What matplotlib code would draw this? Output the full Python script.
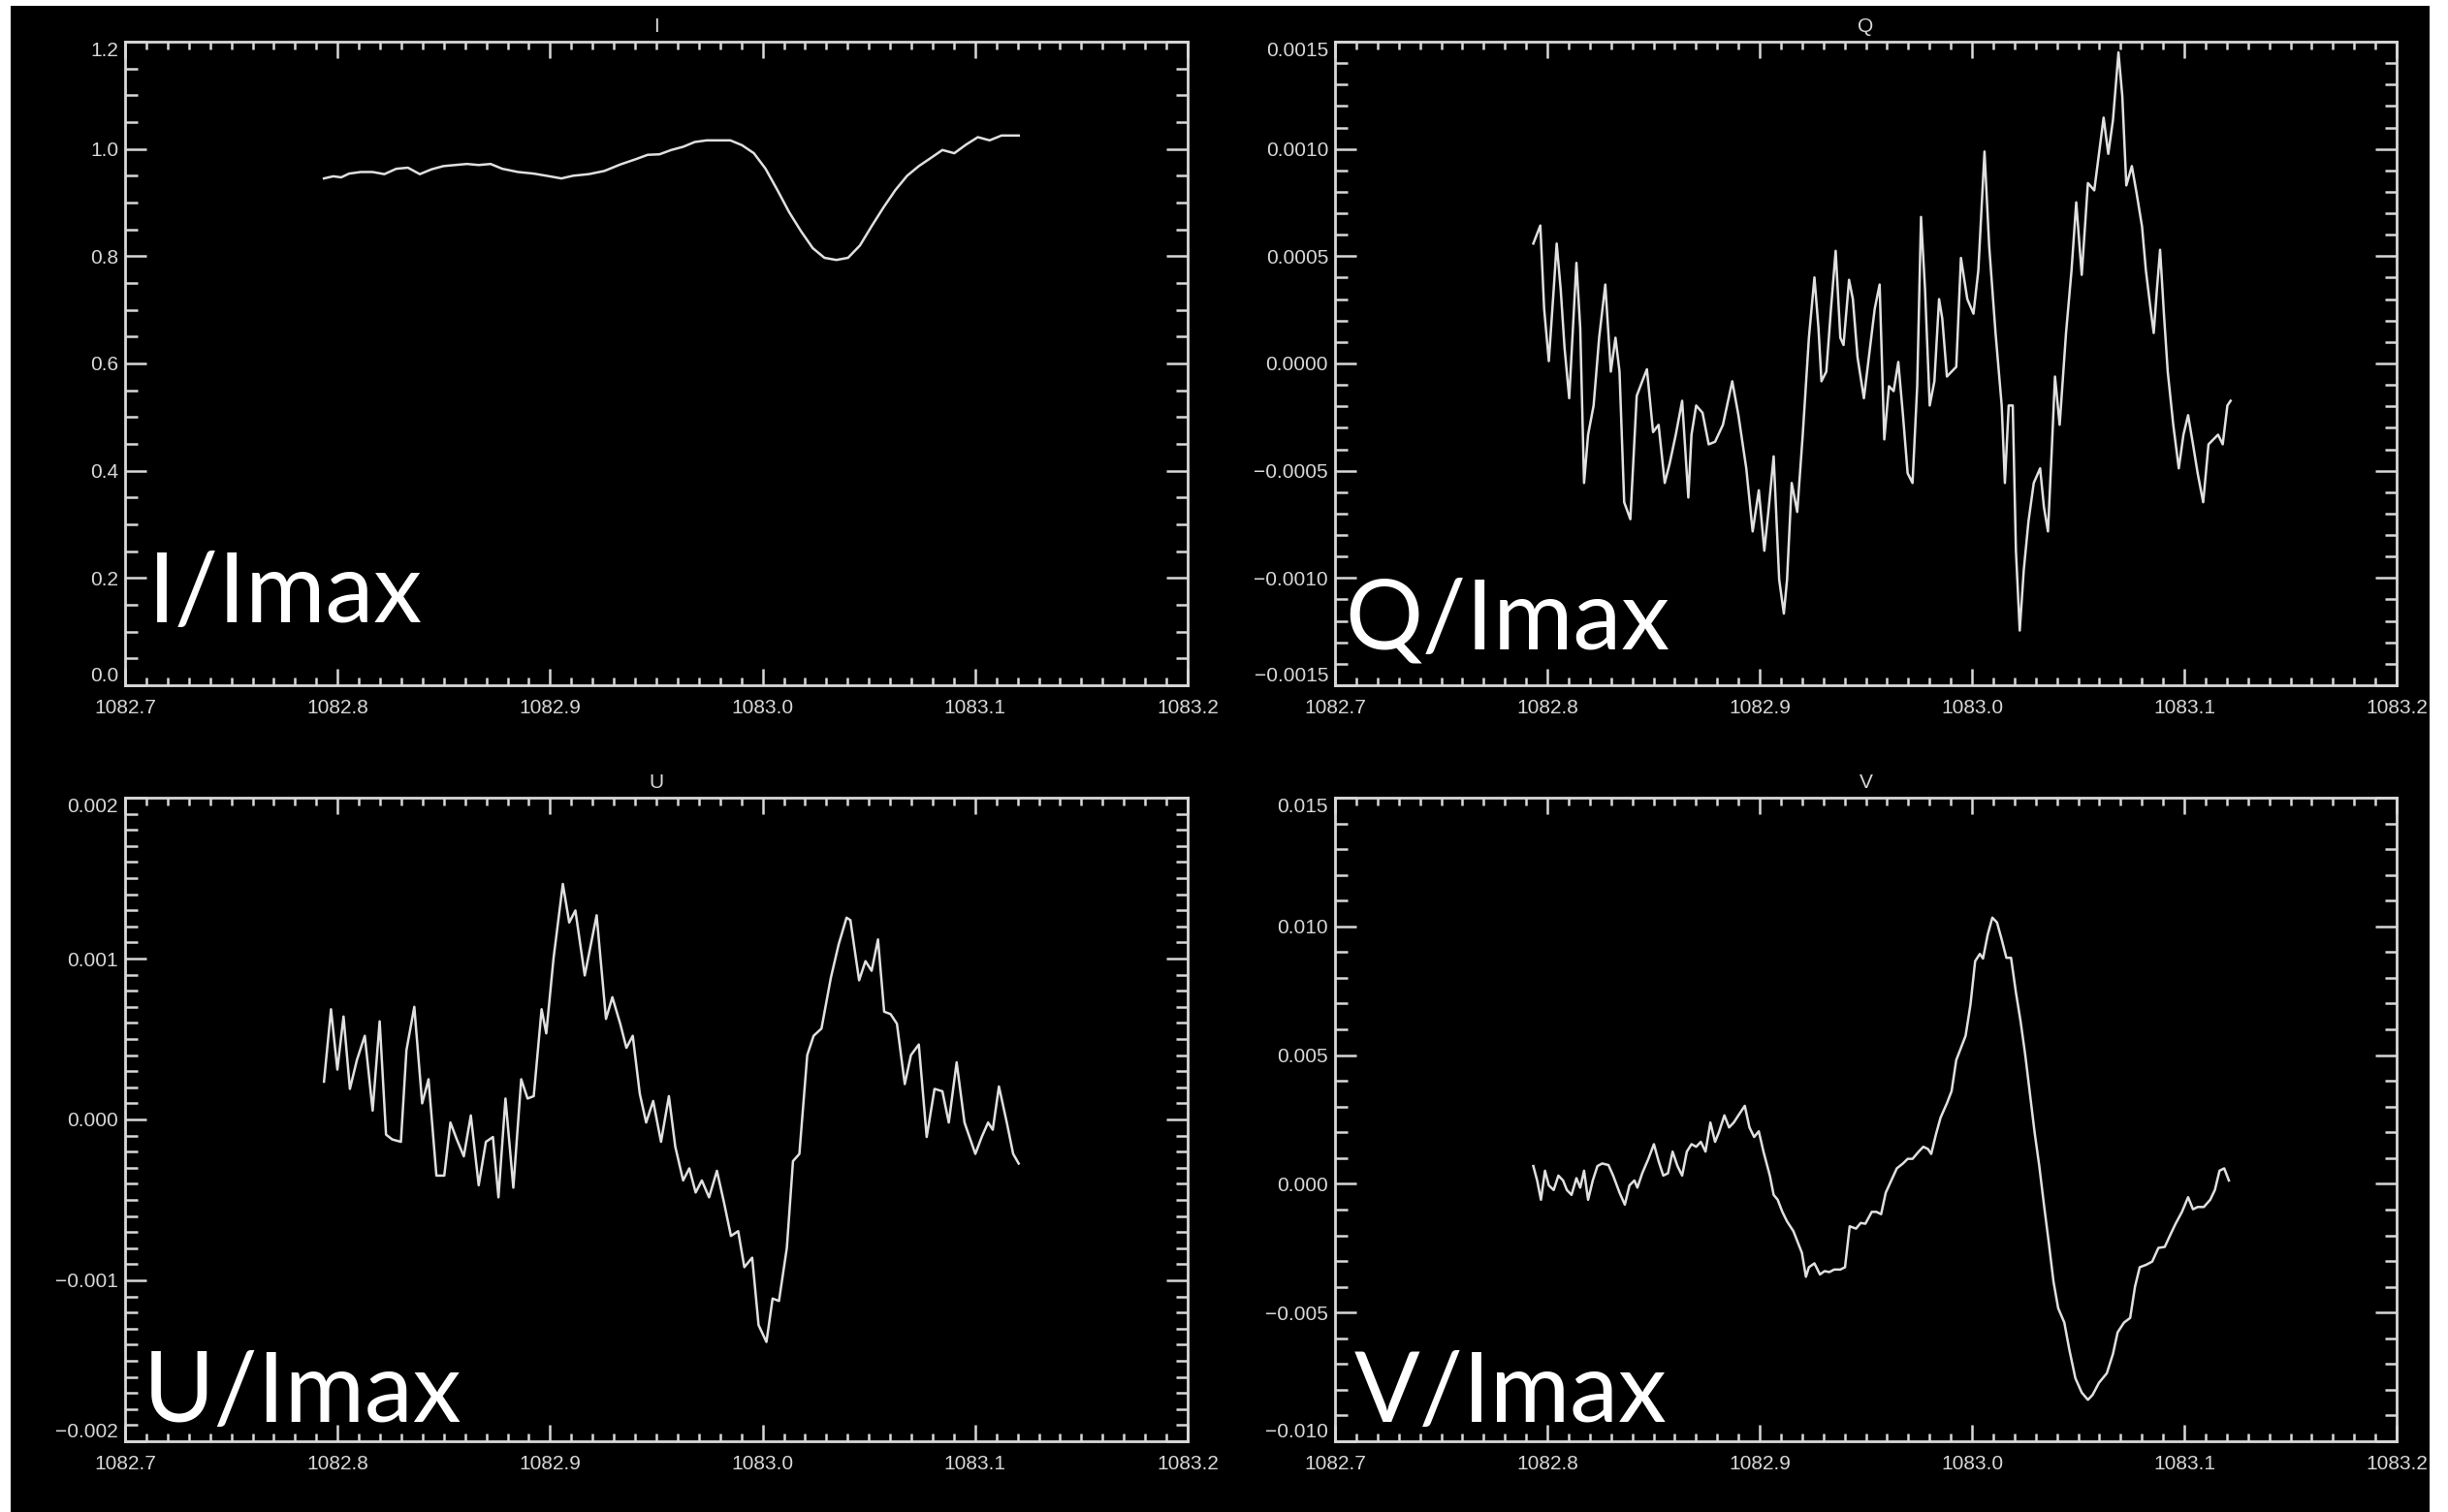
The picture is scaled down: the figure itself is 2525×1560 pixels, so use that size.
import matplotlib.pyplot as plt
from matplotlib.patches import Rectangle
from matplotlib.ticker import MultipleLocator

# He I 1083 nm Stokes profiles, each normalised by the maximum of I
wave_i = [1082.7936, 1082.7980, 1082.8017, 1082.8054, 1082.8109, 1082.8165, 1082.8220, 1082.8276, 1082.8331, 1082.8387,
          1082.8442, 1082.8498, 1082.8553, 1082.8609, 1082.8664, 1082.8720, 1082.8775, 1082.8849, 1082.8923, 1082.8997,
          1082.9053, 1082.9108, 1082.9182, 1082.9256, 1082.9330, 1082.9404, 1082.9459, 1082.9515, 1082.9570, 1082.9626,
          1082.9681, 1082.9737, 1082.9792, 1082.9848, 1082.9903, 1082.9959, 1083.0014, 1083.0070, 1083.0125, 1083.0180,
          1083.0236, 1083.0291, 1083.0347, 1083.0402, 1083.0458, 1083.0513, 1083.0569, 1083.0624, 1083.0680, 1083.0735,
          1083.0791, 1083.0846, 1083.0902, 1083.0957, 1083.1013, 1083.1068, 1083.1124, 1083.1205]
stokes_i = [0.945, 0.949, 0.947, 0.954, 0.957, 0.957, 0.953, 0.963, 0.965, 0.953,
            0.962, 0.968, 0.970, 0.972, 0.970, 0.972, 0.963, 0.957, 0.954, 0.949,
            0.945, 0.950, 0.953, 0.959, 0.971, 0.981, 0.989, 0.990, 0.998, 1.004,
            1.013, 1.016, 1.016, 1.016, 1.007, 0.992, 0.963, 0.923, 0.882, 0.847,
            0.815, 0.797, 0.793, 0.797, 0.820, 0.856, 0.891, 0.923, 0.950, 0.968,
            0.983, 0.998, 0.992, 1.008, 1.022, 1.016, 1.025, 1.025]

wave_q = [1082.7934, 1082.7967, 1082.7985, 1082.8007, 1082.8030, 1082.8044, 1082.8063, 1082.8081, 1082.8103, 1082.8118,
          1082.8137, 1082.8155, 1082.8173, 1082.8192, 1082.8218, 1082.8244, 1082.8273, 1082.8299, 1082.8321, 1082.8340,
          1082.8362, 1082.8391, 1082.8421, 1082.8447, 1082.8469, 1082.8498, 1082.8524, 1082.8553, 1082.8576, 1082.8605,
          1082.8635, 1082.8664, 1082.8679, 1082.8701, 1082.8731, 1082.8760, 1082.8790, 1082.8827, 1082.8871, 1082.8900,
          1082.8937, 1082.8967, 1082.8996, 1082.9022, 1082.9041, 1082.9066, 1082.9092, 1082.9114, 1082.9129, 1082.9151,
          1082.9177, 1082.9203, 1082.9232, 1082.9258, 1082.9277, 1082.9291, 1082.9314, 1082.9336, 1082.9358, 1082.9380,
          1082.9395, 1082.9421, 1082.9439, 1082.9461, 1082.9491, 1082.9520, 1082.9542, 1082.9565, 1082.9587, 1082.9609,
          1082.9631, 1082.9653, 1082.9675, 1082.9697, 1082.9720, 1082.9742, 1082.9760, 1082.9779, 1082.9801, 1082.9823,
          1082.9845, 1082.9860, 1082.9882, 1082.9904, 1082.9926, 1082.9948, 1082.9978, 1083.0007, 1083.0030, 1083.0059,
          1083.0081, 1083.0111, 1083.0140, 1083.0155, 1083.0173, 1083.0192, 1083.0207, 1083.0225, 1083.0244, 1083.0266,
          1083.0291, 1083.0321, 1083.0339, 1083.0358, 1083.0376, 1083.0391, 1083.0413, 1083.0443, 1083.0469, 1083.0491,
          1083.0517, 1083.0546, 1083.0576, 1083.0598, 1083.0620, 1083.0642, 1083.0664, 1083.0690, 1083.0708, 1083.0727,
          1083.0753, 1083.0775, 1083.0801, 1083.0819, 1083.0841, 1083.0856, 1083.0871, 1083.0886, 1083.0904, 1083.0922,
          1083.0948, 1083.0974, 1083.0996, 1083.1018, 1083.1041, 1083.1063, 1083.1089, 1083.1114, 1083.1137, 1083.1159,
          1083.1181, 1083.1203, 1083.1218]
stokes_q = [0.000559, 0.000643, 0.000255, 0.000011, 0.000345, 0.000559, 0.000345, 0.000074, -0.000162, 0.000120,
            0.000469, 0.000165, -0.000557, -0.000332, -0.000196, 0.000120, 0.000368, -0.000038, 0.000120, -0.000038,
            -0.000647, -0.000726, -0.000151, -0.000083, -0.000027, -0.000320, -0.000286, -0.000557, -0.000467, -0.000332,
            -0.000174, -0.000625, -0.000332, -0.000196, -0.000230, -0.000377, -0.000365, -0.000286, -0.000083, -0.000241,
            -0.000489, -0.000783, -0.000591, -0.000873, -0.000692, -0.000433, -0.001008, -0.001166, -0.001008, -0.000557,
            -0.000692, -0.000332, 0.000120, 0.000401, 0.000165, -0.000083, -0.000038, 0.000255, 0.000525, 0.000120,
            0.000086, 0.000390, 0.000300, 0.000029, -0.000162, 0.000074, 0.000255, 0.000368, -0.000354, -0.000106,
            -0.000129, 0.000007, -0.000241, -0.000512, -0.000557, -0.000106, 0.000683, 0.000345, -0.000196, -0.000083,
            0.000300, 0.000210, -0.000061, -0.000038, -0.000016, 0.000492, 0.000300, 0.000232, 0.000435, 0.000988,
            0.000548, 0.000142, -0.000196, -0.000557, -0.000196, -0.000196, -0.000873, -0.001245, -0.000963, -0.000737,
            -0.000557, -0.000489, -0.000670, -0.000783, -0.000399, -0.000061, -0.000286, 0.000142, 0.000435, 0.000751,
            0.000413, 0.000841, 0.000807, 0.000977, 0.001146, 0.000977, 0.001134, 0.001450, 0.001247, 0.000830,
            0.000920, 0.000796, 0.000638, 0.000435, 0.000255, 0.000142, 0.000345, 0.000530, 0.000232, -0.000038,
            -0.000286, -0.000489, -0.000332, -0.000241, -0.000377, -0.000512, -0.000647, -0.000377, -0.000354, -0.000332,
            -0.000377, -0.000196, -0.000174]

wave_u = [1082.7936, 1082.7969, 1082.7999, 1082.8028, 1082.8058, 1082.8091, 1082.8128, 1082.8165, 1082.8198, 1082.8228,
          1082.8257, 1082.8298, 1082.8324, 1082.8361, 1082.8398, 1082.8428, 1082.8465, 1082.8502, 1082.8531, 1082.8561,
          1082.8594, 1082.8627, 1082.8664, 1082.8698, 1082.8731, 1082.8757, 1082.8790, 1082.8827, 1082.8864, 1082.8894,
          1082.8923, 1082.8960, 1082.8982, 1082.9016, 1082.9060, 1082.9090, 1082.9119, 1082.9163, 1082.9219, 1082.9263,
          1082.9293, 1082.9330, 1082.9359, 1082.9389, 1082.9422, 1082.9452, 1082.9485, 1082.9522, 1082.9559, 1082.9589,
          1082.9626, 1082.9655, 1082.9685, 1082.9714, 1082.9748, 1082.9785, 1082.9818, 1082.9851, 1082.9885, 1082.9914,
          1082.9951, 1082.9981, 1083.0018, 1083.0047, 1083.0077, 1083.0114, 1083.0143, 1083.0173, 1083.0210, 1083.0240,
          1083.0277, 1083.0321, 1083.0358, 1083.0395, 1083.0413, 1083.0454, 1083.0484, 1083.0513, 1083.0543, 1083.0572,
          1083.0602, 1083.0632, 1083.0669, 1083.0698, 1083.0735, 1083.0772, 1083.0809, 1083.0846, 1083.0876, 1083.0913,
          1083.0950, 1083.1001, 1083.1031, 1083.1061, 1083.1083, 1083.1112, 1083.1149, 1083.1179, 1083.1205]
stokes_u = [0.000235, 0.000685, 0.000310, 0.000640, 0.000190, 0.000370, 0.000520, 0.000055, 0.000610, -0.000094,
            -0.000124, -0.000139, 0.000430, 0.000700, 0.000100, 0.000250, -0.000349, -0.000349, -0.000019, -0.000124,
            -0.000229, 0.000025, -0.000409, -0.000139, -0.000109, -0.000484, 0.000130, -0.000424, 0.000250, 0.000130,
            0.000145, 0.000685, 0.000535, 0.000999, 0.001464, 0.001224, 0.001299, 0.000895, 0.001269, 0.000625,
            0.000760, 0.000595, 0.000445, 0.000520, 0.000160, -0.000019, 0.000115, -0.000139, 0.000145, -0.000169,
            -0.000379, -0.000304, -0.000454, -0.000379, -0.000484, -0.000319, -0.000514, -0.000724, -0.000694, -0.000918,
            -0.000859, -0.001278, -0.001383, -0.001113, -0.001128, -0.000799, -0.000259, -0.000214, 0.000400, 0.000520,
            0.000565, 0.000880, 0.001089, 0.001254, 0.001239, 0.000865, 0.000984, 0.000924, 0.001119, 0.000670,
            0.000655, 0.000595, 0.000220, 0.000400, 0.000466, -0.000109, 0.000190, 0.000175, -0.000019, 0.000355,
            -0.000019, -0.000214, -0.000109, -0.000019, -0.000064, 0.000205, -0.000019, -0.000214, -0.000274]

wave_v = [1082.7934, 1082.7952, 1082.7970, 1082.7989, 1082.8007, 1082.8030, 1082.8052, 1082.8074, 1082.8092, 1082.8114,
          1082.8137, 1082.8155, 1082.8173, 1082.8192, 1082.8214, 1082.8236, 1082.8258, 1082.8288, 1082.8310, 1082.8340,
          1082.8365, 1082.8387, 1082.8410, 1082.8424, 1082.8447, 1082.8476, 1082.8502, 1082.8524, 1082.8546, 1082.8568,
          1082.8590, 1082.8613, 1082.8635, 1082.8657, 1082.8679, 1082.8701, 1082.8723, 1082.8745, 1082.8768, 1082.8790,
          1082.8808, 1082.8834, 1082.8856, 1082.8878, 1082.8900, 1082.8930, 1082.8952, 1082.8974, 1082.8996, 1082.9018,
          1082.9048, 1082.9066, 1082.9085, 1082.9107, 1082.9129, 1082.9159, 1082.9181, 1082.9199, 1082.9218, 1082.9232,
          1082.9258, 1082.9284, 1082.9306, 1082.9328, 1082.9351, 1082.9380, 1082.9402, 1082.9424, 1082.9454, 1082.9476,
          1082.9498, 1082.9528, 1082.9550, 1082.9572, 1082.9594, 1082.9620, 1082.9646, 1082.9675, 1082.9697, 1082.9720,
          1082.9749, 1082.9771, 1082.9793, 1082.9808, 1082.9830, 1082.9852, 1082.9882, 1082.9904, 1082.9926, 1082.9948,
          1082.9970, 1082.9993, 1083.0015, 1083.0037, 1083.0052, 1083.0074, 1083.0096, 1083.0118, 1083.0140, 1083.0162,
          1083.0184, 1083.0207, 1083.0229, 1083.0251, 1083.0273, 1083.0295, 1083.0317, 1083.0339, 1083.0362, 1083.0384,
          1083.0406, 1083.0435, 1083.0458, 1083.0487, 1083.0517, 1083.0546, 1083.0568, 1083.0598, 1083.0635, 1083.0664,
          1083.0686, 1083.0716, 1083.0745, 1083.0768, 1083.0790, 1083.0819, 1083.0849, 1083.0878, 1083.0908, 1083.0937,
          1083.0959, 1083.0989, 1083.1018, 1083.1041, 1083.1063, 1083.1092, 1083.1122, 1083.1144, 1083.1166, 1083.1188,
          1083.1210]
stokes_v = [0.00069, 0.00013, -0.00062, 0.00051, -0.00006, -0.00024, 0.00032, 0.00013, -0.00024, -0.00043,
            0.00022, -0.00015, 0.00051, -0.00062, 0.00013, 0.00069, 0.00079, 0.00073, 0.00032, -0.00034,
            -0.00081, -0.00006, 0.00013, -0.00015, 0.00041, 0.00097, 0.00154, 0.00088, 0.00032, 0.00041,
            0.00125, 0.00069, 0.00032, 0.00125, 0.00154, 0.00144, 0.00163, 0.00125, 0.00238, 0.00163,
            0.00200, 0.00266, 0.00219, 0.00238, 0.00266, 0.00303, 0.00219, 0.00182, 0.00204, 0.00125,
            0.00032, -0.00043, -0.00062, -0.00109, -0.00146, -0.00184, -0.00230, -0.00268, -0.00361, -0.00324,
            -0.00309, -0.00352, -0.00339, -0.00343, -0.00333, -0.00333, -0.00324, -0.00165, -0.00174, -0.00152,
            -0.00155, -0.00109, -0.00109, -0.00118, -0.00034, 0.00013, 0.00060, 0.00079, 0.00097, 0.00097,
            0.00125, 0.00144, 0.00135, 0.00116, 0.00191, 0.00257, 0.00313, 0.00360, 0.00481, 0.00528,
            0.00575, 0.00697, 0.00865, 0.00893, 0.00875, 0.00968, 0.01034, 0.01015, 0.00949, 0.00878,
            0.00878, 0.00743, 0.00631, 0.00500, 0.00350, 0.00200, 0.00069, -0.00081, -0.00230, -0.00380,
            -0.00483, -0.00539, -0.00642, -0.00755, -0.00811, -0.00839, -0.00820, -0.00773, -0.00736, -0.00661,
            -0.00577, -0.00539, -0.00521, -0.00399, -0.00324, -0.00315, -0.00302, -0.00249, -0.00245, -0.00193,
            -0.00155, -0.00109, -0.00052, -0.00099, -0.00090, -0.00090, -0.00062, -0.00024, 0.00051, 0.00060,
            0.00013]

xticks = [1082.7, 1082.8, 1082.9, 1083.0, 1083.1, 1083.2]
xtick_labels = ["1082.7", "1082.8", "1082.9", "1083.0", "1083.1", "1083.2"]

yticks_i = [0.0, 0.2, 0.4, 0.6, 0.8, 1.0, 1.2]
ylabels_i = ["0.0", "0.2", "0.4", "0.6", "0.8", "1.0", "1.2"]
yticks_q = [-0.0015, -0.0010, -0.0005, 0.0, 0.0005, 0.0010, 0.0015]
ylabels_q = ["\u22120.0015", "\u22120.0010", "\u22120.0005", "0.0000", "0.0005", "0.0010", "0.0015"]
yticks_u = [-0.002, -0.001, 0.0, 0.001, 0.002]
ylabels_u = ["\u22120.002", "\u22120.001", "0.000", "0.001", "0.002"]
yticks_v = [-0.010, -0.005, 0.0, 0.005, 0.010, 0.015]
ylabels_v = ["\u22120.010", "\u22120.005", "0.000", "0.005", "0.010", "0.015"]

W, H = 2525, 1560
LINE = "#e0e0e0"
AXIS = "#d8d8d8"

plt.rcParams["font.family"] = ["Liberation Sans", "DejaVu Sans"]

fig = plt.figure(figsize=(W / 100, H / 100), dpi=100, facecolor="white")

# black slide area, leaving the thin white margin on the edges
fig.add_artist(Rectangle((11 / W, 0), (2506 - 11) / W, (H - 6) / H,
                         transform=fig.transFigure, facecolor="black", edgecolor="none", zorder=0))


def px_rect(x0, y0, x1, y1):
    # pixel box (top-left origin) -> figure fraction rect
    return [x0 / W, 1 - y1 / H, (x1 - x0) / W, (y1 - y0) / H]


def stokes_panel(rect, wave, values, title, yticks, ylabels, yminor):
    ax = fig.add_axes(rect, facecolor="black")
    ax.plot(wave, values, color=LINE, lw=1.8)

    ax.set_xlim(xticks[0], xticks[-1])
    ax.set_ylim(yticks[0], yticks[-1])
    ax.set_xticks(xticks)
    ax.set_xticklabels(xtick_labels)
    ax.set_yticks(yticks)
    ax.set_yticklabels(ylabels)
    ax.xaxis.set_minor_locator(MultipleLocator(0.01))
    ax.yaxis.set_minor_locator(MultipleLocator(yminor))

    for s in ax.spines.values():
        s.set_color(AXIS)
        s.set_linewidth(2)

    ax.tick_params(which="both", direction="in", top=True, right=True, color=AXIS,
                   width=1.8, labelcolor=AXIS, labelsize=15)
    ax.tick_params(axis="x", which="major", length=12, pad=10)
    ax.tick_params(axis="x", which="minor", length=6)
    ax.tick_params(axis="y", which="major", length=16, pad=5)
    ax.tick_params(axis="y", which="minor", length=9)

    # end labels sit inside the axis range
    labs = ax.get_yticklabels()
    labs[0].set_va("bottom")
    labs[-1].set_va("top")

    ax.set_title(title, color=AXIS, fontsize=15, pad=7)
    return ax


stokes_panel(px_rect(129, 43, 1225, 707), wave_i, stokes_i, "I", yticks_i, ylabels_i, 0.05)
stokes_panel(px_rect(1377, 43, 2472, 707), wave_q, stokes_q, "Q", yticks_q, ylabels_q, 0.0001)
stokes_panel(px_rect(129, 823, 1225, 1487), wave_u, stokes_u, "U", yticks_u, ylabels_u, 0.0001)
stokes_panel(px_rect(1377, 823, 2472, 1487), wave_v, stokes_v, "V", yticks_v, ylabels_v, 0.001)

# large slide captions
captions = [("I/Imax", 153, 642), ("Q/Imax", 1387, 669), ("U/Imax", 148, 1467), ("V/Imax", 1397, 1467)]
for text, x, y in captions:
    fig.text(x / W, 1 - y / H, text, color="white", fontsize=72,
             family=["Lato", "DejaVu Sans"], ha="left", va="baseline")

fig.savefig("out.png", dpi=100, facecolor=fig.get_facecolor())
